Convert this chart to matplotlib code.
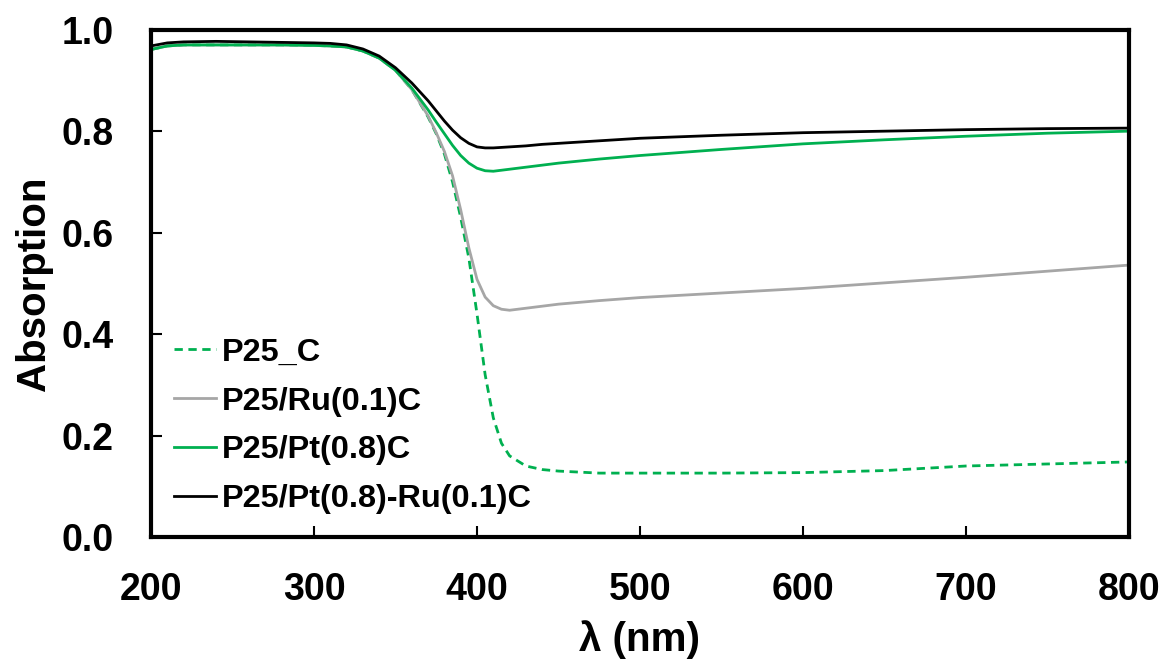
import matplotlib
matplotlib.use("Agg")
import matplotlib.pyplot as plt

plt.rcParams['font.family'] = ['Liberation Sans', 'DejaVu Sans']
plt.rcParams['font.weight'] = 'bold'

wl = [200, 210, 220, 240, 260, 280, 300, 310, 320, 330, 340, 350, 360, 370, 375, 380,
      385, 390, 395, 400, 405, 410, 415, 420, 430, 440, 450, 475, 500, 550, 600, 650,
      700, 750, 800]

p25_c = [0.961, 0.968, 0.970, 0.970, 0.970, 0.970, 0.969, 0.968, 0.966, 0.958, 0.944,
         0.920, 0.882, 0.828, 0.795, 0.755, 0.700, 0.630, 0.550, 0.440, 0.320, 0.235,
         0.185, 0.160, 0.140, 0.133, 0.130, 0.126, 0.126, 0.126, 0.127, 0.131, 0.140,
         0.144, 0.148]
p25_ru = [0.961, 0.968, 0.970, 0.970, 0.970, 0.970, 0.969, 0.968, 0.966, 0.958, 0.944,
          0.920, 0.882, 0.830, 0.797, 0.760, 0.712, 0.645, 0.570, 0.508, 0.473, 0.456,
          0.449, 0.447, 0.451, 0.455, 0.459, 0.466, 0.472, 0.481, 0.490, 0.501, 0.512,
          0.524, 0.536]
p25_pt = [0.961, 0.968, 0.970, 0.970, 0.970, 0.970, 0.969, 0.968, 0.966, 0.958, 0.944,
          0.920, 0.885, 0.842, 0.818, 0.795, 0.772, 0.752, 0.737, 0.727, 0.722, 0.721,
          0.723, 0.725, 0.729, 0.733, 0.737, 0.745, 0.752, 0.764, 0.775, 0.783, 0.790,
          0.796, 0.800]
p25_ptru = [0.968, 0.974, 0.976, 0.977, 0.976, 0.975, 0.974, 0.973, 0.970, 0.962, 0.948,
            0.925, 0.895, 0.860, 0.840, 0.820, 0.802, 0.787, 0.776, 0.769, 0.767, 0.767,
            0.768, 0.769, 0.771, 0.774, 0.776, 0.781, 0.786, 0.792, 0.797, 0.800, 0.803,
            0.805, 0.806]

labels = ['P25_C', 'P25/Ru(0.1)C', 'P25/Pt(0.8)C', 'P25/Pt(0.8)-Ru(0.1)C']
xticks = [200, 300, 400, 500, 600, 700, 800]
yticks = [0.0, 0.2, 0.4, 0.6, 0.8, 1.0]

green = '#00B050'
gray = '#A6A6A6'

fig = plt.figure(figsize=(11.67, 6.63), dpi=100)
ax = fig.add_axes([0.1294, 0.190, 0.8380, 0.7652])

ax.plot(wl, p25_c, color=green, lw=2.0, linestyle=(0, (3, 2)), label=labels[0])
ax.plot(wl, p25_ru, color=gray, lw=2.0, label=labels[1])
ax.plot(wl, p25_pt, color=green, lw=2.0, label=labels[2])
ax.plot(wl, p25_ptru, color='black', lw=2.0, label=labels[3])

ax.set_xlim(200, 800)
ax.set_ylim(0, 1.0)
ax.set_xticks(xticks)
ax.set_yticks(yticks)
ax.set_xticklabels([str(v) for v in xticks])
ax.set_yticklabels([f"{v:.1f}" for v in yticks])

for s in ax.spines.values():
    s.set_linewidth(3)
ax.tick_params(axis='both', direction='in', length=8, width=1.5, labelsize=27)
ax.tick_params(axis='x', pad=25)
ax.tick_params(axis='y', pad=27)

ax.set_xlabel('λ (nm)', fontsize=29, fontweight='bold', labelpad=9)
ax.set_ylabel('Absorption', fontsize=29, fontweight='bold', labelpad=6)

leg = ax.legend(loc='lower left', bbox_to_anchor=(0.0, 0.0), frameon=False,
                fontsize=23.4, handlelength=1.29, handletextpad=0.2,
                labelspacing=0.58, borderaxespad=0.3)

fig.savefig('out.png', dpi=100)
